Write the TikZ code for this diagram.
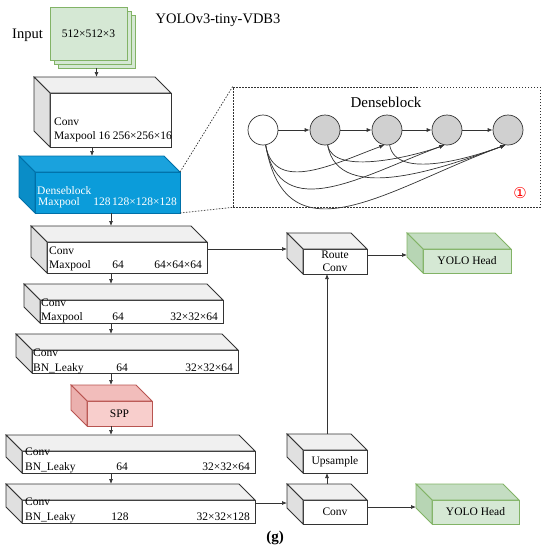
\documentclass[tikz,border=0pt]{standalone}
\usepackage{fontspec}
\setmainfont{Liberation Serif}
\newfontfamily\circfont{DejaVu Sans}
\usepackage{xcolor}
\usetikzlibrary{arrows.meta,positioning,calc}
\definecolor{edgegray}{HTML}{333333}
\definecolor{facetop}{HTML}{F0F0F0}
\definecolor{faceside}{HTML}{E0E0E0}
\definecolor{denseblue}{HTML}{0B9CDA}
\definecolor{densetop}{HTML}{1AA2DD}
\definecolor{denseside}{HTML}{0A8DC7}
\definecolor{denseedge}{HTML}{0070A8}
\definecolor{softgreen}{HTML}{D5E8D4}
\definecolor{greentop}{HTML}{C4DDC2}
\definecolor{greenside}{HTML}{B7D5B4}
\definecolor{greenedge}{HTML}{82B366}
\definecolor{softred}{HTML}{F8CECC}
\definecolor{redtop}{HTML}{F2BDBB}
\definecolor{redside}{HTML}{EBB0AE}
\definecolor{rededge}{HTML}{B85450}
\definecolor{nodegray}{HTML}{D0D0D0}

% depth of the 3d slabs
\newcommand{\dep}{16}
\newcommand{\boxsides}[3]{%
  \coordinate (#1b) at ($(#1.north west)+(-\dep,\dep)$);
  \draw[#2] (#1.north west) -- (#1b) -- ($(#1.north east)+(-\dep,\dep)$) -- (#1.north east) -- cycle;
  \draw[#3] (#1.north west) -- (#1b) -- ($(#1.south west)+(-\dep,\dep)$) -- (#1.south west) -- cycle;
}

\begin{document}
\begin{tikzpicture}[x=1pt, y=1pt, >=Latex, font=\fontsize{11.5}{13}\selectfont]
  \tikzstyle{wslab}=[draw=edgegray, line width=0.8pt, inner sep=0pt, outer sep=0pt, fill=white, align=center]
  \tikzstyle{wtop}=[draw=edgegray, line width=0.8pt, fill=facetop]
  \tikzstyle{wside}=[draw=edgegray, line width=0.8pt, fill=faceside]
  \tikzstyle{bslab}=[wslab, draw=denseedge, fill=denseblue]
  \tikzstyle{btop}=[draw=denseedge, line width=0.8pt, fill=densetop]
  \tikzstyle{bside}=[draw=denseedge, line width=0.8pt, fill=denseside]
  \tikzstyle{gslab}=[wslab, draw=greenedge, fill=softgreen]
  \tikzstyle{gtop}=[draw=greenedge, line width=0.8pt, fill=greentop]
  \tikzstyle{gside}=[draw=greenedge, line width=0.8pt, fill=greenside]
  \tikzstyle{rslab}=[wslab, draw=rededge, fill=softred]
  \tikzstyle{rtop}=[draw=rededge, line width=0.8pt, fill=redtop]
  \tikzstyle{rside}=[draw=rededge, line width=0.8pt, fill=redside]
  \tikzstyle{lbl}=[inner sep=0pt]
  \tikzstyle{arr}=[-{Latex[length=5pt,width=4pt]}, draw=edgegray, line width=0.7pt]
  \tikzstyle{dnode}=[circle, draw=edgegray, line width=0.7pt, minimum size=30pt, inner sep=0pt]
  \useasboundingbox (0,0) rectangle (546,-550);

  % input and title
  \node[gslab, minimum width=77pt, minimum height=53pt] (in3) at (96.5,-41.5) {};
  \node[gslab, minimum width=77pt, minimum height=53pt] (in2) at (92.5,-37.5) {};
  \node[gslab, minimum width=77pt, minimum height=53pt] (in1) at (88.5,-33.5) {512×512×3};
  \node[lbl, font=\fontsize{14.5}{16}\selectfont] (inp) at (27.5,-35) {Input};
  \node[lbl, font=\fontsize{14.5}{16}\selectfont] (title) at (218,-20) {YOLOv3-tiny-VDB3};

  \coordinate (ax1) at (92,0);
  \coordinate (ax0) at (111,0);
  \coordinate (ax2) at (327,0);

  % backbone
  \node[wslab, minimum width=121pt, minimum height=54pt] (c1) at (110.5,-120) {};
  \boxsides{c1}{wtop}{wside}
  \node[lbl, anchor=mid west] (c1t1) at (54,-123) {Conv};
  \node[lbl, anchor=mid west] (c1t2) at (54,-137) {Maxpool 16 256×256×16};

  \node[bslab, minimum width=145pt, minimum height=41pt] (dn) at (107.5,-192.5) {};
  \boxsides{dn}{btop}{bside}
  \node[lbl, anchor=mid west, text=white] (dnt1) at (37,-192) {Denseblock};
  \node[lbl, anchor=mid west, text=white] (dnt2) at (38,-203) {Maxpool};
  \node[lbl, anchor=mid, text=white] (dnt3) at (102,-203) {128};
  \node[lbl, anchor=mid east, text=white] (dnt4) at (177,-203) {128×128×128};

  \node[wslab, minimum width=160pt, minimum height=31pt] (c2) at (127,-257.5) {};
  \boxsides{c2}{wtop}{wside}
  \node[lbl, anchor=mid west] (c2t1) at (49,-252) {Conv};
  \node[lbl, anchor=mid west] (c2t2) at (49,-266) {Maxpool};
  \node[lbl, anchor=mid] (c2t3) at (118,-266) {64};
  \node[lbl, anchor=mid east] (c2t4) at (202,-266) {64×64×64};

  \node[wslab, minimum width=183pt, minimum height=23pt] (c3) at (131.5,-311.5) {};
  \boxsides{c3}{wtop}{wside}
  \node[lbl, anchor=mid west] (c3t1) at (41,-304) {Conv};
  \node[lbl, anchor=mid west] (c3t2) at (41,-318) {Maxpool};
  \node[lbl, anchor=mid] (c3t3) at (118,-318) {64};
  \node[lbl, anchor=mid east] (c3t4) at (218,-318) {32×32×64};

  \node[wslab, minimum width=206pt, minimum height=23pt] (c4) at (135,-361.5) {};
  \boxsides{c4}{wtop}{wside}
  \node[lbl, anchor=mid west] (c4t1) at (33,-354) {Conv};
  \node[lbl, anchor=mid west] (c4t2) at (33,-369) {BN\_Leaky};
  \node[lbl, anchor=mid] (c4t3) at (122,-369) {64};
  \node[lbl, anchor=mid east] (c4t4) at (233,-369) {32×32×64};

  \node[rslab, minimum width=65pt, minimum height=25pt] (spp) at (119.5,-413.5) {SPP};
  \boxsides{spp}{rtop}{rside}

  \node[wslab, minimum width=233pt, minimum height=22pt] (c5) at (138.5,-462) {};
  \boxsides{c5}{wtop}{wside}
  \node[lbl, anchor=mid west] (c5t1) at (25,-453) {Conv};
  \node[lbl, anchor=mid west] (c5t2) at (25,-468) {BN\_Leaky};
  \node[lbl, anchor=mid] (c5t3) at (122,-468) {64};
  \node[lbl, anchor=mid east] (c5t4) at (250,-468) {32×32×64};

  \node[wslab, minimum width=233pt, minimum height=23pt] (c6) at (138.5,-511.5) {};
  \boxsides{c6}{wtop}{wside}
  \node[lbl, anchor=mid west] (c6t1) at (25,-503) {Conv};
  \node[lbl, anchor=mid west] (c6t2) at (25,-518) {BN\_Leaky};
  \node[lbl, anchor=mid] (c6t3) at (120,-518) {128};
  \node[lbl, anchor=mid east] (c6t4) at (250,-518) {32×32×128};

  % heads
  \node[wslab, minimum width=64pt, minimum height=25pt] (rt) at (335,-261.5) {Route\\Conv};
  \boxsides{rt}{wtop}{wside}
  \node[gslab, minimum width=88pt, minimum height=24pt] (yh1) at (467,-261) {YOLO Head};
  \boxsides{yh1}{gtop}{gside}
  \node[wslab, minimum width=64pt, minimum height=23pt] (up) at (335,-461.5) {Upsample};
  \boxsides{up}{wtop}{wside}
  \node[wslab, minimum width=64pt, minimum height=24pt] (c7) at (335,-512) {Conv};
  \boxsides{c7}{wtop}{wside}
  \node[gslab, minimum width=87pt, minimum height=24pt] (yh2) at (475.5,-512) {YOLO Head};
  \boxsides{yh2}{gtop}{gside}

  \draw[arr] (in3.south) -- (in3.south |- c1b);
  \draw[arr] (c1.south -| ax1) -- (dnb -| ax1);
  \draw[arr] (dn.south -| ax0) -- (c2b -| ax0);
  \draw[arr] (c2.south -| ax0) -- (c3b -| ax0);
  \draw[arr] (c3.south -| ax0) -- (c4b -| ax0);
  \draw[arr] (c4.south -| ax0) -- (sppb -| ax0);
  \draw[arr] (spp.south -| ax0) -- (c5b -| ax0);
  \draw[arr] (c5.south -| ax0) -- (c6b -| ax0);
  \draw[arr] (c2.east |- rt.north) -- (rtb |- rt.north);
  \draw[arr] ([yshift=6.5pt]rt.east) -- ([yshift=6.5pt]rt.east -| yh1b);
  \draw[arr] (upb -| ax2) -- (rt.south -| ax2);
  \draw[arr] (c7b -| ax2) -- (up.south -| ax2);
  \draw[arr] ([yshift=8.5pt]c6.east) -- ([yshift=8.5pt]c6.east -| c7b);
  \draw[arr] ([yshift=5pt]c7.east) -- ([yshift=5pt]c7.east -| yh2b);

  % dense block detail
  \node[draw=edgegray, dash pattern=on 1.5pt off 1.5pt, line width=0.7pt, minimum width=307pt, minimum height=120pt, inner sep=0pt] (db) at (386.5,-147) {};
  \draw[edgegray, dash pattern=on 1.5pt off 1.5pt, line width=0.7pt] (dn.north east) -- (db.north west);
  \draw[edgegray, dash pattern=on 1.5pt off 1.5pt, line width=0.7pt] (dn.south east) -- (db.south west);
  \node[lbl, font=\fontsize{15}{17}\selectfont] (dbt) at (386,-102) {Denseblock};
  \foreach \i/\x/\c in {1/263/white,2/325/nodegray,3/387/nodegray,4/447/nodegray,5/508/nodegray}
    \node[dnode, fill=\c] (d\i) at (\x,-130) {};
  \foreach \i/\j in {1/2,2/3,3/4,4/5}
    \draw[arr] (d\i) -- (d\j);
  \foreach \i/\j/\l in {1/3/1.1,1/4/1.2,1/5/1.3,2/4/0.7,2/5/0.9,3/5/0.8}
    \draw[arr] (d\i.-80) to[out=-80, in=-160, looseness=\l] (d\j.-100);
  \node[lbl, text=red, font=\circfont\fontsize{15}{17}\selectfont] (dbn) at (520,-193) {①};

  \node[lbl, font=\bfseries\fontsize{15}{17}\selectfont] (cap) at (275,-538) {(g)};
\end{tikzpicture}
\end{document}
